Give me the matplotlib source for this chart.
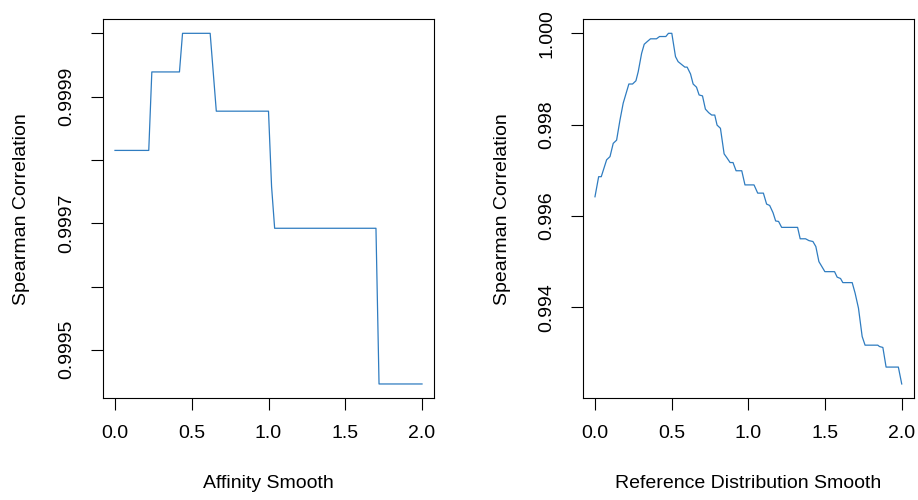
import matplotlib
matplotlib.use("Agg")
import matplotlib.pyplot as plt

plt.rcParams['font.family'] = ['Liberation Sans', 'DejaVu Sans']

# affinity smoothing sweep
aff_x = [0.0, 0.22, 0.24, 0.42, 0.44, 0.62, 0.66, 1.00, 1.02, 1.04, 1.70, 1.72, 2.00]
aff_y = [0.999815, 0.999815, 0.999939, 0.999939, 1.000000, 1.000000, 0.999877,
         0.999877, 0.999758, 0.999692, 0.999692, 0.999446, 0.999446]

# reference distribution smoothing sweep
ref_x = [0.000, 0.024, 0.041, 0.076, 0.098, 0.119, 0.141, 0.163, 0.184, 0.206,
         0.221, 0.245, 0.267, 0.282, 0.304, 0.321, 0.341, 0.362, 0.401, 0.421,
         0.462, 0.479, 0.501, 0.525, 0.542, 0.564, 0.586, 0.601, 0.623, 0.640,
         0.662, 0.679, 0.701, 0.720, 0.742, 0.761, 0.781, 0.796, 0.818, 0.842,
         0.859, 0.881, 0.900, 0.920, 0.957, 0.978, 1.037, 1.061, 1.098, 1.119,
         1.139, 1.161, 1.178, 1.197, 1.217, 1.321, 1.338, 1.373, 1.395, 1.421,
         1.440, 1.460, 1.499, 1.562, 1.579, 1.601, 1.616, 1.677, 1.696, 1.718,
         1.742, 1.761, 1.844, 1.855, 1.877, 1.898, 1.978, 2.000]
ref_y = [0.99642, 0.99686, 0.99686, 0.99723, 0.99730, 0.99759, 0.99766, 0.99810, 0.99847, 0.99872,
         0.99889, 0.99889, 0.99896, 0.99916, 0.99956, 0.99976, 0.99982, 0.99988, 0.99988, 0.99993,
         0.99993, 1.00000, 1.00000, 0.99949, 0.99938, 0.99932, 0.99926, 0.99926, 0.99911, 0.99889,
         0.99882, 0.99865, 0.99863, 0.99834, 0.99826, 0.99821, 0.99821, 0.99799, 0.99792, 0.99736,
         0.99728, 0.99717, 0.99717, 0.99699, 0.99699, 0.99668, 0.99668, 0.99650, 0.99650, 0.99626,
         0.99623, 0.99607, 0.99589, 0.99588, 0.99575, 0.99575, 0.99550, 0.99550, 0.99546, 0.99544,
         0.99533, 0.99500, 0.99478, 0.99478, 0.99466, 0.99463, 0.99454, 0.99454, 0.99431, 0.99398,
         0.99336, 0.99317, 0.99317, 0.99314, 0.99312, 0.99269, 0.99269, 0.99232]

x_ticks = [0.0, 0.5, 1.0, 1.5, 2.0]
aff_ticks = [0.9995, 0.9996, 0.9997, 0.9998, 0.9999, 1.0000]
aff_labels = ['0.9995', '', '0.9997', '', '0.9999', '']
ref_ticks = [0.994, 0.996, 0.998, 1.000]
ref_labels = ['0.994', '0.996', '0.998', '1.000']

line_col = '#2f7cc0'
fs = 14

fig = plt.figure(figsize=(9.18, 5.0), dpi=100)
W, H = 918, 500


def make_axes(left, right):
    return fig.add_axes([left / W, (H - 398) / H, (right - left) / W, (398 - 19.3) / H])


ax1 = make_axes(102.7, 434.3)
ax2 = make_axes(582.7, 914.0)

panels = [
    (ax1, aff_x, aff_y, aff_ticks, aff_labels, 'Affinity Smooth', 22),
    (ax2, ref_x, ref_y, ref_ticks, ref_labels, 'Reference Distribution Smooth', 502),
]

for ax, xs, ys, yt, yl, xlab, ylab_px in panels:
    ax.plot(xs, ys, color=line_col, lw=0.9)
    ax.margins(x=0.04, y=0.04)
    ax.set_xticks(x_ticks)
    ax.set_xticklabels(['0.0', '0.5', '1.0', '1.5', '2.0'])
    ax.set_yticks(yt)
    ax.set_yticklabels(yl, rotation=90, va='center')
    ax.tick_params(length=8.6, width=0.8, labelsize=fs, pad=11)
    for s in ax.spines.values():
        s.set_linewidth(0.8)
    ax.set_xlabel(xlab, fontsize=fs, va='center')
    ax.xaxis.set_label_coords(0.5, -0.2245)
    ax.set_ylabel('Spearman Correlation', fontsize=fs, va='center')
    left_px = ax.get_position().x0 * W
    ax.yaxis.set_label_coords((ylab_px - left_px) / 331.5, 0.5)

fig.savefig('out.png', dpi=100)
